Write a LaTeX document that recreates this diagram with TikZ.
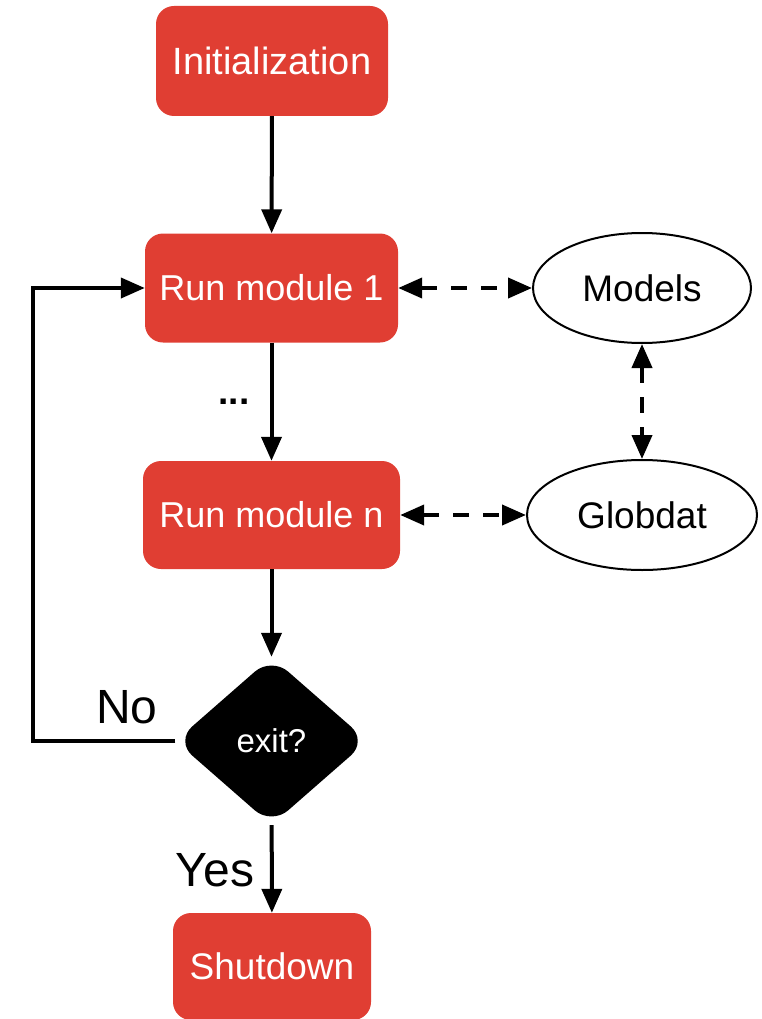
\documentclass[tikz,border=0pt]{standalone}
\usepackage{fontspec}
\setmainfont{Liberation Sans}
\usetikzlibrary{arrows.meta,shapes.geometric}
\definecolor{boxred}{RGB}{224,62,51}
\begin{document}
\begin{tikzpicture}[x=1pt,y=-1pt,
  box/.style={rectangle, fill=boxred, rounded corners=18pt, text=white,
    font=\fontsize{36}{40}\selectfont, inner sep=0pt},
  ell/.style={ellipse, draw=black, line width=2pt, inner sep=0pt,
    font=\fontsize{37}{42}\selectfont},
  arr/.style={line width=4pt, -{Triangle[length=24pt,width=20pt]}},
  darr/.style={line width=4pt, dash pattern=on 16pt off 14pt,
    {Triangle[length=24pt,width=20pt]}-{Triangle[length=24pt,width=20pt]}},
  lbl/.style={font=\fontsize{48}{54}\selectfont, inner sep=0pt}
]
\useasboundingbox (0,0) rectangle (762,1019);
\node[box, minimum width=232pt, minimum height=110pt, font=\fontsize{38}{42}\selectfont] (init) at (272,61) {Initialization};
\node[box, minimum width=253pt, minimum height=109pt] (run1) at (271.5,288) {Run module 1};
\node[box, minimum width=257pt, minimum height=108pt] (runn) at (271.5,515) {Run module n};
\node[diamond, fill=black, rounded corners=22pt, aspect=1.14, inner sep=0pt,
  minimum width=192pt, minimum height=168pt, text=white,
  font=\fontsize{33}{38}\selectfont] (exit) at (271.5,741) {exit?};
\node[box, minimum width=198pt, minimum height=107pt, font=\fontsize{37}{42}\selectfont] (shut) at (272,966.5) {Shutdown};
\node[ell, minimum width=218pt, minimum height=110pt] (models) at (642,288) {Models};
\node[ell, minimum width=230pt, minimum height=110pt] (glob) at (642,515) {Globdat};

\node[font=\bfseries\fontsize{37}{40}\selectfont, inner sep=0pt] (dots) at (234,402) {...};
\node[lbl] (no) at (127,707) {No};
\node[lbl] (yes) at (215,870) {Yes};

\coordinate (lp) at (33,741);
\draw[arr] (init) -- (run1);
\draw[arr] (run1) -- (runn);
\draw[arr] (runn) -- (exit);
\draw[arr] (exit) -- (shut);
\draw[arr] (exit.west) -- (lp) |- (run1.west);
\draw[darr] (run1.east) -- (models.west);
\draw[darr] (models.south) -- (glob.north);
\draw[darr] (runn.east) -- (glob.west);
\end{tikzpicture}
\end{document}
